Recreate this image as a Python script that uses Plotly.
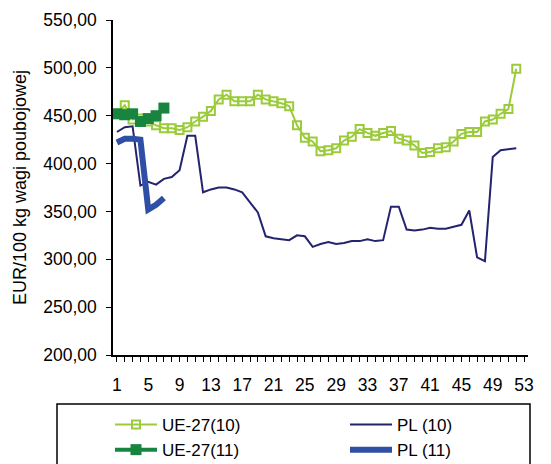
import plotly.graph_objects as go

weeks_10 = list(range(1, 53))
weeks_11 = list(range(1, 8))

ue27_10 = [452, 461, 446, 447, 444, 440, 437, 437, 435, 438, 444, 449, 455, 467, 472, 465,
           465, 465, 472, 467, 465, 463, 460, 440, 427, 423, 413, 414, 416, 424, 428, 436,
           432, 429, 432, 434, 426, 424, 419, 411, 412, 416, 417, 423, 431, 433, 433, 444,
           446, 452, 457, 499]
pl_10 = [433, 438, 439, 377, 381, 378, 384, 386, 393, 429, 429, 370, 373, 375, 375, 373,
         370, 359, 349, 324, 322, 321, 320, 325, 324, 313, 316, 318, 316, 317, 319, 319,
         321, 319, 320, 355, 355, 331, 330, 331, 333, 332, 332, 334, 336, 351, 302, 298,
         407, 414, 415, 416]
ue27_11 = [452, 451, 452, 444, 447, 450, 458]
pl_11 = [422, 426, 426, 425, 352, 357, 364]

x_tickvals = list(range(1, 54))
x_ticktext = [str(v) if (v - 1) % 4 == 0 else "" for v in x_tickvals]

FONT = "Liberation Sans, Arial, sans-serif"
L_GREEN = "#9BCB3B"
D_GREEN = "#17843F"
NAVY = "#23236E"
BLUE = "#2F4EA6"

fig = go.Figure()
fig.add_trace(go.Scatter(
    x=weeks_10, y=ue27_10, name="UE-27(10)", mode="lines+markers",
    line=dict(color=L_GREEN, width=2),
    marker=dict(symbol="square-open", size=8, color=L_GREEN, line=dict(width=2, color=L_GREEN)),
    legend="legend"))
fig.add_trace(go.Scatter(
    x=weeks_10, y=pl_10, name="PL (10)", mode="lines",
    line=dict(color=NAVY, width=2), legend="legend2"))
fig.add_trace(go.Scatter(
    x=weeks_11, y=ue27_11, name="UE-27(11)", mode="lines+markers",
    line=dict(color=D_GREEN, width=4),
    marker=dict(symbol="square", size=11, color=D_GREEN),
    legend="legend"))
fig.add_trace(go.Scatter(
    x=weeks_11, y=pl_11, name="PL (11)", mode="lines",
    line=dict(color=BLUE, width=6), legend="legend2"))

# the page body adds an 8px offset, so the figure is 8px smaller than the window
W, H = 543, 456
ml, mr, mt, mb = 105, 23, 12, 109
pw = W - ml - mr
ph = H - mt - mb

def px_x(p):
    return (p - ml) / pw

def px_y(p):
    return (H - mb - p) / ph

fig.update_layout(
    width=W, height=H,
    margin=dict(l=ml, r=mr, t=mt, b=mb, autoexpand=False),
    paper_bgcolor="white", plot_bgcolor="white",
    separators=", ",
    font=dict(family=FONT, size=17.5, color="black"),
    legend=dict(x=px_x(102), y=px_y(399), xanchor="left", yanchor="top",
                bgcolor="rgba(0,0,0,0)", font=dict(size=17), tracegroupgap=0,
                itemwidth=42),
    legend2=dict(x=px_x(337), y=px_y(399), xanchor="left", yanchor="top",
                 bgcolor="rgba(0,0,0,0)", font=dict(size=17), tracegroupgap=0,
                 itemwidth=42),
    shapes=[dict(type="rect", xref="paper", yref="paper",
                 x0=px_x(49), x1=px_x(522), y0=px_y(396), y1=px_y(470),
                 line=dict(color="black", width=1.5))],
)
fig.update_xaxes(
    range=[0.5, 53.5], tickmode="array", tickvals=x_tickvals, ticktext=x_ticktext,
    ticks="outside", ticklen=5, tickwidth=1, tickcolor="black",
    showline=True, linecolor="black", linewidth=1.5, showgrid=False, zeroline=False,
    ticklabelstandoff=8, tickfont=dict(size=17.5))
fig.update_yaxes(
    range=[200, 550], dtick=50, tickformat=".2f",
    ticks="outside", ticklen=5, tickwidth=1, tickcolor="black",
    showline=True, linecolor="black", linewidth=1.5, showgrid=False, zeroline=False,
    tickfont=dict(size=17.5), ticklabelstandoff=6,
    title=dict(text="EUR/100 kg wagi poubojowej", font=dict(size=18), standoff=12))

fig.write_html("out.html")
